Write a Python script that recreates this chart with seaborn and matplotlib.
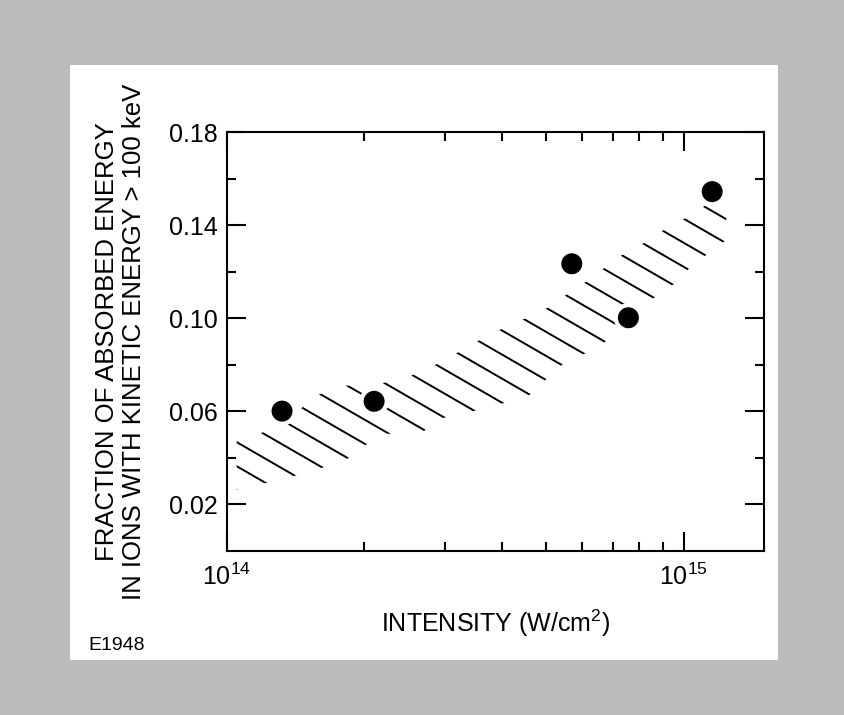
import numpy as np
import matplotlib
matplotlib.use("Agg")
import matplotlib.pyplot as plt
import seaborn as sns
import pandas as pd
from matplotlib.collections import LineCollection
from matplotlib.patches import Rectangle
from matplotlib.ticker import (FixedLocator, LogLocator, LogFormatterMathtext,
                               NullFormatter, FormatStrFormatter)

# ---------------- data ----------------
intensity = [1.32e14, 2.10e14, 5.69e14, 7.57e14, 1.155e15]
fraction = [0.0601, 0.0643, 0.1234, 0.1002, 0.1544]

# hatched band (upper and lower edges)
band_upper_x = [1.05e14, 1.17e14, 1.34e14, 1.44e14, 1.56e14, 1.78e14, 2.14e14,
                2.46e14, 2.80e14, 3.19e14, 3.64e14, 4.20e14, 4.81e14, 5.32e14,
                5.74e14, 6.38e14, 6.88e14, 7.50e14, 8.42e14, 9.18e14, 1.03e15,
                1.11e15, 1.24e15]
band_upper_y = [0.0473, 0.0503, 0.0541, 0.0606, 0.0666, 0.0709, 0.0717,
                0.0743, 0.0790, 0.0851, 0.0915, 0.0975, 0.1022, 0.1074,
                0.1126, 0.1177, 0.1237, 0.1284, 0.1336, 0.1388, 0.1439,
                0.1482, 0.1525]
band_lower_x = [1.05e14, 1.22e14, 1.40e14, 1.58e14, 1.81e14, 1.97e14, 2.17e14,
                2.68e14, 2.84e14, 3.34e14, 3.91e14, 4.60e14, 5.06e14, 5.60e14,
                6.54e14, 6.95e14, 8.09e14, 8.99e14, 9.65e14, 1.04e15, 1.24e15]
band_lower_y = [0.0262, 0.0292, 0.0322, 0.0352, 0.0387, 0.0442, 0.0503,
                0.0507, 0.0563, 0.0593, 0.0627, 0.0670, 0.0747, 0.0825,
                0.0868, 0.0932, 0.1057, 0.1108, 0.1156, 0.1224, 0.1336]

y_major = [0.02, 0.06, 0.10, 0.14, 0.18]
y_minor = [0.04, 0.08, 0.12, 0.16]

x_label = "INTENSITY (W/cm$^{2}$)"
y_label = "FRACTION OF ABSORBED ENERGY\nIN IONS WITH KINETIC ENERGY > 100 keV"
fig_code = "E1948"

df = pd.DataFrame({"intensity": intensity, "fraction": fraction})

# ---------------- style ----------------
sns.set_theme(style="ticks")
plt.rcParams["font.family"] = ["Liberation Sans", "DejaVu Sans"]
plt.rcParams["mathtext.fontset"] = "custom"
plt.rcParams["mathtext.rm"] = "Liberation Sans"
plt.rcParams["mathtext.it"] = "Liberation Sans:italic"
plt.rcParams["mathtext.bf"] = "Liberation Sans:bold"

W, H = 844, 715
fig = plt.figure(figsize=(W / 100, H / 100), dpi=100)
fig.patch.set_facecolor("#bcbcbc")
fig.add_artist(Rectangle((70 / W, 1 - 660 / H), (778 - 70) / W, (660 - 65) / H,
                         transform=fig.transFigure, facecolor="white",
                         edgecolor="none", zorder=0))

ax_l, ax_r, ax_t, ax_b = 227, 764, 132, 551
ax = fig.add_axes([ax_l / W, 1 - ax_b / H, (ax_r - ax_l) / W, (ax_b - ax_t) / H])
ax.set_facecolor("white")
ax.set_xscale("log")
ax.set_xlim(1e14, 1.5e15)
ax.set_ylim(0, 0.18)

# band polygon (invisible), used as clip region for hatch strokes
poly = ax.fill(band_upper_x + band_lower_x[::-1],
               band_upper_y + band_lower_y[::-1],
               facecolor="none", edgecolor="none", zorder=1)[0]

# hatch pattern: parallel strokes at -30 deg, spacing ~21 px
ang = np.deg2rad(-30)
d = np.array([np.cos(ang), np.sin(ang)])
n = np.array([-np.sin(ang), np.cos(ang)])
c0, sp = 333.8, 20.85
segs = []
for k in range(-40, 60):
    c = c0 + k * sp
    p0 = c * n - 2000 * d
    p1 = c * n + 2000 * d
    segs.append([p0 / 100, p1 / 100])
lc = LineCollection(segs, colors="black", linewidths=1.4,
                    transform=fig.dpi_scale_trans, zorder=2)
ax.add_collection(lc, autolim=False)
lc.set_clip_path(poly)

# data points with white halo
sns.scatterplot(data=df, x="intensity", y="fraction", ax=ax, s=450,
                color="white", edgecolor="none", linewidth=0, zorder=3,
                legend=False)
sns.scatterplot(data=df, x="intensity", y="fraction", ax=ax, s=228,
                color="black", edgecolor="none", linewidth=0, zorder=4,
                legend=False)

# ticks
ax.yaxis.set_major_locator(FixedLocator(y_major))
ax.yaxis.set_minor_locator(FixedLocator(y_minor))
ax.yaxis.set_major_formatter(FormatStrFormatter("%.2f"))
ax.xaxis.set_major_locator(LogLocator(base=10))
ax.xaxis.set_minor_locator(LogLocator(base=10, subs=np.arange(2, 10)))
ax.xaxis.set_major_formatter(LogFormatterMathtext())
ax.xaxis.set_minor_formatter(NullFormatter())
ax.tick_params(which="both", direction="in", top=True, right=True,
               width=1.5, color="black", labelcolor="black")
ax.tick_params(which="major", length=13.7, labelsize=18)
ax.tick_params(which="minor", length=6.5)
ax.tick_params(axis="y", which="major", pad=6.5)
ax.tick_params(axis="x", which="major", pad=9)
for s in ax.spines.values():
    s.set_linewidth(1.5)
    s.set_color("black")

ax.set_xlabel(x_label, fontsize=18, color="black")
ax.xaxis.set_label_coords(0.5, -0.135)
ax.set_ylabel(y_label, fontsize=18.5, color="black", linespacing=1.2)
ax.yaxis.set_label_coords(-0.15, 0.5)

fig.text(88 / W, 1 - 650 / H, fig_code, fontsize=14, ha="left",
         va="baseline", color="black")

fig.savefig("out.png", dpi=100, facecolor=fig.get_facecolor())
